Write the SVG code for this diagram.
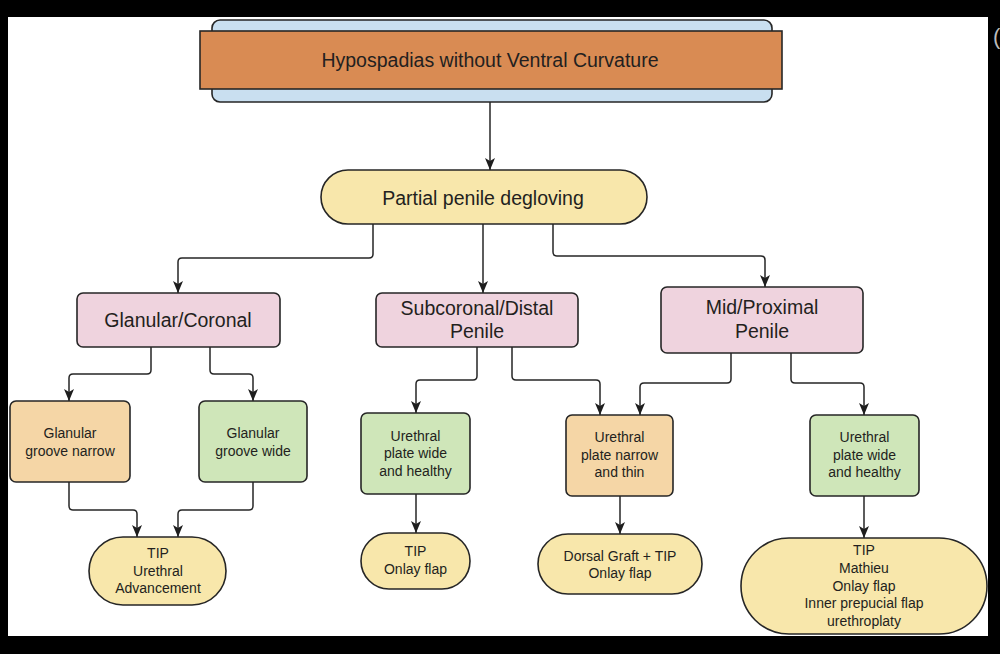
<svg xmlns="http://www.w3.org/2000/svg" width="1000" height="654" viewBox="0 0 1000 654">
<defs>
<marker id="arr" markerUnits="userSpaceOnUse" markerWidth="10" markerHeight="12" refX="5" refY="12" orient="0" viewBox="0 0 10 12"><path d="M0,0 L5,3 L10,0 L5,12 Z" fill="#1e1e1e"/></marker>
<style>
.bx{stroke:#262626;stroke-width:1.6}
.pink{fill:#efd3de}
.green{fill:#cfe6b9}
.orng{fill:#f5d6a6}
.pill{fill:#f8e7ab}
.t{font-family:"Liberation Sans",Arial,sans-serif;fill:#231f20;text-anchor:middle}
.l{font-size:19.5px}
.s{font-size:14px}
.c{fill:none;stroke:#262626;stroke-width:1.5}
</style>
</defs>
<rect x="0" y="0" width="1000" height="654" fill="#000"/>
<rect x="8" y="17" width="980" height="619" fill="#fff"/>
<text x="993" y="44" font-family="Liberation Sans,Arial,sans-serif" font-size="22" fill="#bbb">(</text>

<g id="connectors">
<path class="c" marker-end="url(#arr)" d="M490,102 V170"/>
<path class="c" marker-end="url(#arr)" d="M373,224 V254 Q373,258 369,258 H182 Q178,258 178,262 V293"/>
<path class="c" marker-end="url(#arr)" d="M483,224 V293"/>
<path class="c" marker-end="url(#arr)" d="M553,224 V252 Q553,256 557,256 H761 Q765,256 765,260 V287"/>
<path class="c" marker-end="url(#arr)" d="M151,347 V370 Q151,374 147,374 H73 Q69,374 69,378 V401"/>
<path class="c" marker-end="url(#arr)" d="M210,347 V370 Q210,374 214,374 H249 Q253,374 253,378 V401"/>
<path class="c" marker-end="url(#arr)" d="M477,347 V376 Q477,380 473,380 H420 Q416,380 416,384 V413"/>
<path class="c" marker-end="url(#arr)" d="M512,347 V376 Q512,380 516,380 H596 Q600,380 600,384 V415"/>
<path class="c" marker-end="url(#arr)" d="M731,353 V379 Q731,383 727,383 H644 Q640,383 640,387 V415"/>
<path class="c" marker-end="url(#arr)" d="M791,353 V379 Q791,383 795,383 H860 Q864,383 864,387 V415"/>
<path class="c" marker-end="url(#arr)" d="M69,482 V506 Q69,510 73,510 H133 Q137,510 137,514 V537"/>
<path class="c" marker-end="url(#arr)" d="M253,482 V506 Q253,510 249,510 H182 Q178,510 178,514 V537"/>
<path class="c" marker-end="url(#arr)" d="M416,494 V533"/>
<path class="c" marker-end="url(#arr)" d="M620,496 V534"/>
<path class="c" marker-end="url(#arr)" d="M864,496 V538"/>
</g>

<g id="title">
<rect class="bx" x="212" y="20" width="560" height="82" rx="8" fill="#c9dff0"/>
<rect class="bx" x="200" y="31" width="582" height="58" fill="#d98b53"/>
<text class="t l" x="490" y="67" fill="#2a1a14">Hypospadias without Ventral Curvature</text>
</g>

<g id="degloving">
<rect class="bx pill" x="321" y="170" width="326" height="54" rx="27"/>
<text class="t l" x="483" y="205">Partial penile degloving</text>
</g>

<g id="glanular-coronal">
<rect class="bx pink" x="77" y="293" width="203" height="54" rx="6"/>
<text class="t l" x="178" y="327">Glanular/Coronal</text>
</g>
<g id="subcoronal">
<rect class="bx pink" x="376" y="293" width="202" height="54" rx="6"/>
<text class="t l" x="477" y="315">Subcoronal/Distal</text>
<text class="t l" x="477" y="338">Penile</text>
</g>
<g id="mid-proximal">
<rect class="bx pink" x="661" y="287" width="202" height="66" rx="6"/>
<text class="t l" x="762" y="314">Mid/Proximal</text>
<text class="t l" x="762" y="338">Penile</text>
</g>

<g id="groove-narrow">
<rect class="bx orng" x="10" y="401" width="120" height="81" rx="6"/>
<text class="t s" x="70" y="438">Glanular</text>
<text class="t s" x="70" y="456">groove narrow</text>
</g>
<g id="groove-wide">
<rect class="bx green" x="199" y="401" width="108" height="81" rx="6"/>
<text class="t s" x="253" y="438">Glanular</text>
<text class="t s" x="253" y="456">groove wide</text>
</g>
<g id="plate-wide-1">
<rect class="bx green" x="361" y="413" width="109" height="81" rx="6"/>
<text class="t s" x="415.5" y="441">Urethral</text>
<text class="t s" x="415.5" y="458">plate wide</text>
<text class="t s" x="415.5" y="476">and healthy</text>
</g>
<g id="plate-narrow">
<rect class="bx orng" x="566" y="415" width="107" height="81" rx="6"/>
<text class="t s" x="619.5" y="442">Urethral</text>
<text class="t s" x="619.5" y="460">plate narrow</text>
<text class="t s" x="619.5" y="477">and thin</text>
</g>
<g id="plate-wide-2">
<rect class="bx green" x="810" y="415" width="109" height="81" rx="6"/>
<text class="t s" x="864.5" y="442">Urethral</text>
<text class="t s" x="864.5" y="460">plate wide</text>
<text class="t s" x="864.5" y="477">and healthy</text>
</g>

<g id="tip-advancement">
<rect class="bx pill" x="89" y="537" width="137" height="68" rx="34"/>
<text class="t s" x="158" y="558">TIP</text>
<text class="t s" x="158" y="576">Urethral</text>
<text class="t s" x="158" y="593">Advancement</text>
</g>
<g id="tip-onlay">
<rect class="bx pill" x="361" y="533" width="109" height="56" rx="28"/>
<text class="t s" x="415.5" y="556">TIP</text>
<text class="t s" x="415.5" y="574">Onlay flap</text>
</g>
<g id="dorsal-graft">
<rect class="bx pill" x="538" y="534" width="164" height="60" rx="30"/>
<text class="t s" x="620" y="561">Dorsal Graft + TIP</text>
<text class="t s" x="620" y="578">Onlay flap</text>
</g>
<g id="tip-mathieu">
<rect class="bx pill" x="741" y="538" width="246" height="96" rx="48"/>
<text class="t s" x="864" y="555">TIP</text>
<text class="t s" x="864" y="573">Mathieu</text>
<text class="t s" x="864" y="591">Onlay flap</text>
<text class="t s" x="864" y="608">Inner prepucial flap</text>
<text class="t s" x="864" y="626">urethroplaty</text>
</g>
</svg>
